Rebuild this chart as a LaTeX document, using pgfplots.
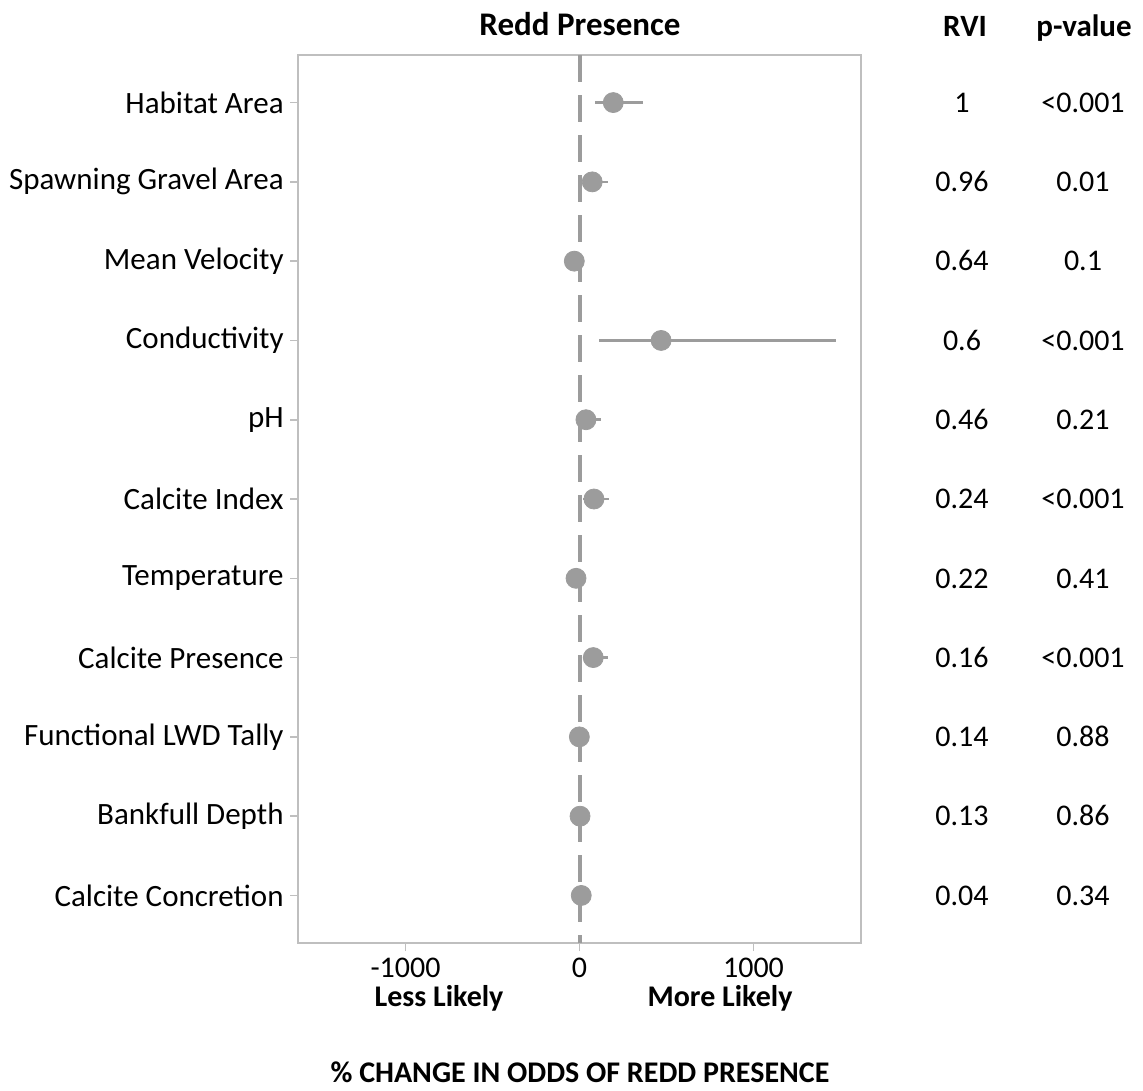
\documentclass[border=0pt]{standalone}
\usepackage{fontspec}
\setmainfont{Carlito}
\usepackage{pgfplots}
\pgfplotsset{compat=1.18}
\usepackage{pgfplotstable}
\definecolor{boxgray}{HTML}{BFBFBF}
\definecolor{ptgray}{HTML}{9C9C9C}

\pgfplotstableread{
y pt lo hi
1 194 89 363
2 73 20 162
3 -30 -50 -12
4 469 112 1473
5 37 0 122
6 83 20 170
7 -20 -35 -6
8 79 20 166
9 -1 -10 8
10 3 -8 14
11 10 -5 25
}\datatab

\begin{document}
\fontsize{15}{18}\selectfont
\begin{tikzpicture}
\path[use as bounding box] (0,0) rectangle (571.5pt,-545pt);
\begin{axis}[
  at={(149pt,-27.5pt)}, anchor=north west,
  width=281.5pt, height=444pt, scale only axis,
  xmin=-1618, xmax=1618,
  ymin=0.40, ymax=11.60, y dir=reverse,
  xtick={-1000,0,1000},
  ytick={1,...,11},
  yticklabels={Habitat Area,Spawning Gravel Area,Mean Velocity,Conductivity,pH,Calcite Index,Temperature,Calcite Presence,Functional LWD Tally,Bankfull Depth,Calcite Concretion},
  xtick pos=bottom, ytick pos=left,
  tick align=outside, major tick length=4pt,
  tick style={boxgray, line width=0.8pt},
  axis line style={boxgray, line width=1.3pt},
  xticklabel style={font=\fontsize{15}{18}\selectfont, yshift=1.5pt},
  yticklabel style={font=\fontsize{15.5}{18}\selectfont, xshift=2pt},
  /pgf/number format/assume math mode=true,
  /pgf/number format/1000 sep={},
  scaled x ticks=false,
  clip=false,
]
\addplot[ptgray, line width=2pt, dash pattern=on 13.5pt off 6.5pt] coordinates {(0,0.40) (0,11.60)};
\addplot[only marks, mark=*, mark size=5pt, mark options={fill=ptgray, draw=ptgray},
  error bars/.cd, x dir=both, x explicit, error mark=none,
  error bar style={ptgray, line width=1.3pt}]
  table[x=pt, y=y, x error plus expr=\thisrow{hi}-\thisrow{pt}, x error minus expr=\thisrow{pt}-\thisrow{lo}] {\datatab};
\end{axis}
\tikzset{lbl/.style={anchor=base, inner sep=0pt}}
\node[lbl, font=\fontsize{16.5}{19}\selectfont\bfseries] at (290pt,-17.8pt) {Redd Presence};
\node[lbl, font=\fontsize{15.5}{19}\selectfont\bfseries] at (482.5pt,-18.5pt) {RVI};
\node[lbl, font=\fontsize{15.5}{19}\selectfont\bfseries] at (542pt,-18.5pt) {p-value};
\foreach \i/\r/\p in {0/1/{<0.001},1/0.96/0.01,2/0.64/0.1,3/0.6/{<0.001},4/0.46/0.21,5/0.24/{<0.001},6/0.22/0.41,7/0.16/{<0.001},8/0.14/0.88,9/0.13/0.86,10/0.04/0.34}{
  \node[lbl] at (481pt,{-56.1pt-\i*39.65pt}) {\r};
  \node[lbl] at (541.5pt,{-56.1pt-\i*39.65pt}) {\p};
}
\node[lbl, font=\fontsize{15}{18}\selectfont\bfseries] at (219.5pt,-503.3pt) {Less Likely};
\node[lbl, font=\fontsize{15}{18}\selectfont\bfseries] at (360pt,-503.3pt) {More Likely};
\node[lbl, font=\fontsize{15}{18}\selectfont\bfseries] at (290pt,-541pt) {\% CHANGE IN ODDS OF REDD PRESENCE};
\end{tikzpicture}
\end{document}
